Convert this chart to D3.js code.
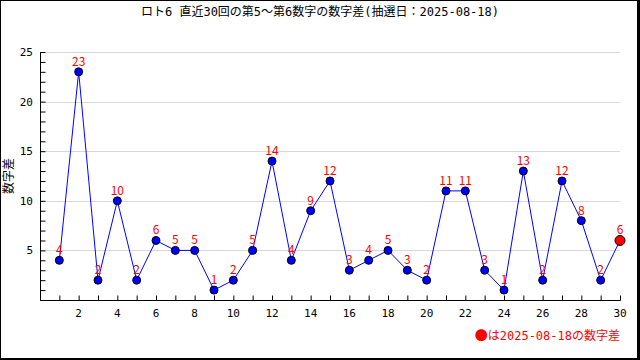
<!DOCTYPE html>
<html><head><meta charset="utf-8">
<script src="https://cdn.jsdelivr.net/npm/d3@7"></script>
<style>body{margin:0;background:#fff}svg{display:block}</style>
</head><body>
<svg id="c" width="640" height="360"></svg>
<script>
const title = "ロト6 直近30回の第5～第6数字の数字差(抽選日：2025-08-18)";
const yLabel = "数字差";
const legendMark = "●";
const legendText = "は2025-08-18の数字差";
const draws = d3.range(1, 31);
const diffs = [4,23,2,10,2,6,5,5,1,2,5,14,4,9,12,3,4,5,3,2,11,11,3,1,13,2,12,8,2,6];
const xTickLabels = [2,4,6,8,10,12,14,16,18,20,22,24,26,28,30];
const yTickLabels = [5,10,15,20,25];

const font = "'Noto Sans CJK JP', sans-serif";
const mono = "'DejaVu Sans Mono', 'Noto Sans CJK JP', monospace";
const svg = d3.select("#c");
const x = d3.scaleLinear().domain([0, 30]).range([40, 620]);
const y = d3.scaleLinear().domain([0, 25]).range([300, 52]);

// frame
svg.append("line").attr("x1",0.5).attr("y1",0).attr("x2",0.5).attr("y2",360).attr("stroke","#000");
svg.append("line").attr("x1",0).attr("y1",0.5).attr("x2",640).attr("y2",0.5).attr("stroke","#000");
svg.append("rect").attr("x",637).attr("y",0).attr("width",3).attr("height",360).attr("fill","#000");
svg.append("rect").attr("x",0).attr("y",358).attr("width",640).attr("height",2).attr("fill","#000");

// title
svg.append("text").attr("x",320).attr("y",16).attr("text-anchor","middle")
  .attr("font-family",mono).attr("font-size",12).text(title);

// grid
svg.append("g").selectAll("line").data(yTickLabels).join("line")
  .attr("x1",40).attr("x2",620).attr("y1",d=>Math.round(y(d))+0.5).attr("y2",d=>Math.round(y(d))+0.5)
  .attr("stroke","#d8d8d8");

// y axis
const ya = svg.append("g").attr("transform","translate(40.5,0)")
  .call(d3.axisRight(y).tickValues(d3.range(1,26)).tickSize(5).tickFormat(""));
ya.select(".domain").remove();
ya.selectAll("line").attr("stroke","#000");
svg.append("line").attr("x1",40.5).attr("x2",40.5).attr("y1",52).attr("y2",300.5).attr("stroke","#000");
svg.append("g").selectAll("text").data(yTickLabels).join("text")
  .attr("x",33).attr("y",d=>y(d)+4).attr("text-anchor","end")
  .attr("font-family",mono).attr("font-size",11).text(d=>d);

// x axis
const xa = svg.append("g").attr("transform","translate(0,300.5)")
  .call(d3.axisTop(x).tickValues(d3.range(1,31)).tickSize(5).tickFormat(""));
xa.select(".domain").remove();
xa.selectAll("line").attr("stroke","#000");
svg.append("line").attr("x1",40).attr("x2",620.5).attr("y1",300.5).attr("y2",300.5).attr("stroke","#000");
svg.append("g").selectAll("text").data(xTickLabels).join("text")
  .attr("x",d=>x(d)).attr("y",317).attr("text-anchor","middle")
  .attr("font-family",mono).attr("font-size",11).text(d=>d);

// y label
svg.append("text").attr("transform","translate(13,176) rotate(-90)").attr("text-anchor","middle")
  .attr("font-family",font).attr("font-size",12).text(yLabel);

// line
const pts = draws.map((d,i)=>({d, v: diffs[i]}));
svg.append("path").datum(pts)
  .attr("d", d3.line().x(p=>x(p.d)).y(p=>y(p.v)))
  .attr("fill","none").attr("stroke","#0000ff").attr("stroke-width",1);

// points
svg.append("g").selectAll("circle").data(pts).join("circle")
  .attr("cx",p=>x(p.d)).attr("cy",p=>y(p.v))
  .attr("r",(p,i)=> i===pts.length-1 ? 5 : 4)
  .attr("fill",(p,i)=> i===pts.length-1 ? "#ff0000" : "#0000ff")
  .attr("stroke","#000").attr("stroke-width",1);

// labels
svg.append("g").selectAll("text").data(pts).join("text")
  .attr("x",p=>x(p.d)).attr("y",p=>y(p.v)-6).attr("text-anchor","middle")
  .attr("font-family",font).attr("font-size",12).attr("fill","#ff0000").text(p=>p.v);

// legend
const lg = svg.append("text").attr("x",620).attr("y",340).attr("text-anchor","end")
  .attr("font-family",mono).attr("font-size",12).attr("fill","#ff0000");
lg.append("tspan").attr("font-family",font).attr("font-size",13).text(legendMark);
lg.append("tspan").text(legendText);
</script>
</body></html>
